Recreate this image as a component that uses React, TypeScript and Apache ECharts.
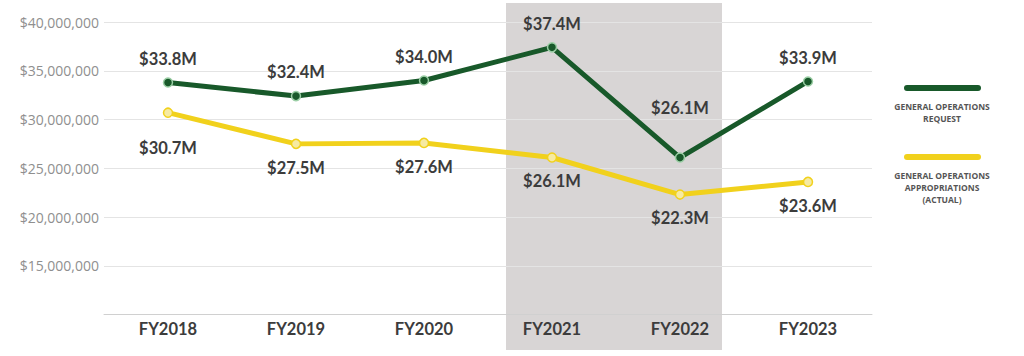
import React, { useEffect, useRef } from "react";
import * as echarts from "echarts";

const categories = ["FY2018", "FY2019", "FY2020", "FY2021", "FY2022", "FY2023"];
const requestValues = [33.8, 32.4, 34.0, 37.4, 26.1, 33.9];
const appropriationValues = [30.7, 27.5, 27.6, 26.1, 22.3, 23.6];
const requestName = "GENERAL OPERATIONS\nREQUEST";
const appropriationName = "GENERAL OPERATIONS\nAPPROPRIATIONS\n(ACTUAL)";

const GREEN = "#18592a";
const YELLOW = "#f1d11c";
const LABEL = "#3c3c3c";

export default function App() {
  const ref = useRef<HTMLDivElement>(null);
  useEffect(() => {
    if (!ref.current) return;
    const chart = echarts.init(ref.current, null, { renderer: "svg" });
    const fmt = (v: number) => "$" + v.toFixed(1) + "M";
    const labelStyle = {
      show: true,
      fontFamily: "Lato",
      fontWeight: "bold" as const,
      fontSize: 16.5,
      color: LABEL,
      formatter: (p: any) => fmt(p.value / 1e6),
    };
    const reqData = requestValues.map((v, i) => ({
      value: v * 1e6,
      label: i === 4 ? { distance: 36 } : undefined,
    }));
    const appData = appropriationValues.map((v, i) => ({
      value: v * 1e6,
      label: i === 0 ? { distance: 22 } : undefined,
    }));
    chart.setOption({
      animation: false,
      grid: { left: 104, right: 152, top: 22, bottom: 41.5 },
      xAxis: {
        type: "category",
        data: categories,
        axisLine: { lineStyle: { color: "#d0d0d0", width: 1 } },
        axisTick: { show: false },
        axisLabel: {
          fontFamily: "Lato",
          fontWeight: "bold",
          fontSize: 16.5,
          color: LABEL,
          margin: 6,
        },
      },
      yAxis: {
        type: "value",
        min: 10000000,
        max: 40000000,
        interval: 5000000,
        axisLine: { show: false },
        axisTick: { show: false },
        splitLine: { lineStyle: { color: "#e4e4e4", width: 1 } },
        axisLabel: {
          fontFamily: "Open Sans",
          fontSize: 14,
          color: "#8f8f8f",
          margin: 5,
          formatter: (v: number) =>
            v === 10000000 ? "" : "$" + v.toLocaleString("en-US"),
        },
      },
      graphic: [
        {
          type: "rect",
          z: -10,
          shape: { x: 506, y: 3, width: 216, height: 347 },
          style: { fill: "#d8d5d5" },
        },
        {
          type: "line",
          shape: { x1: 907, y1: 88, x2: 978, y2: 88 },
          style: { stroke: GREEN, lineWidth: 6, lineCap: "round" },
        },
        {
          type: "text",
          x: 942,
          y: 100,
          style: {
            text: requestName,
            align: "center",
            verticalAlign: "top",
            fontFamily: "Open Sans",
            fontWeight: "bold",
            fontSize: 8.5,
            lineHeight: 12,
            fill: "#555",
          },
        },
        {
          type: "line",
          shape: { x1: 907, y1: 157, x2: 978, y2: 157 },
          style: { stroke: YELLOW, lineWidth: 6, lineCap: "round" },
        },
        {
          type: "text",
          x: 942,
          y: 169,
          style: {
            text: appropriationName,
            align: "center",
            verticalAlign: "top",
            fontFamily: "Open Sans",
            fontWeight: "bold",
            fontSize: 8.5,
            lineHeight: 12,
            fill: "#555",
          },
        },
      ],
      series: [
        {
          name: requestName,
          type: "line",
          data: reqData,
          z: 3,
          symbol: "circle",
          symbolSize: 9,
          lineStyle: { color: GREEN, width: 5 },
          itemStyle: { color: GREEN, borderColor: "#9ccfa6", borderWidth: 1.5 },
          label: { ...labelStyle, position: "top", distance: 10 },
        },
        {
          name: appropriationName,
          type: "line",
          data: appData,
          z: 2,
          symbol: "circle",
          symbolSize: 9,
          lineStyle: { color: YELLOW, width: 5 },
          itemStyle: { color: "#f6eaa2", borderColor: YELLOW, borderWidth: 1.5 },
          label: { ...labelStyle, position: "bottom", distance: 10 },
        },
      ],
    });
    return () => chart.dispose();
  }, []);
  return (
    <div
      ref={ref}
      style={{ position: "fixed", left: 0, top: 0, width: 1024, height: 356, background: "#fff" }}
    />
  );
}
